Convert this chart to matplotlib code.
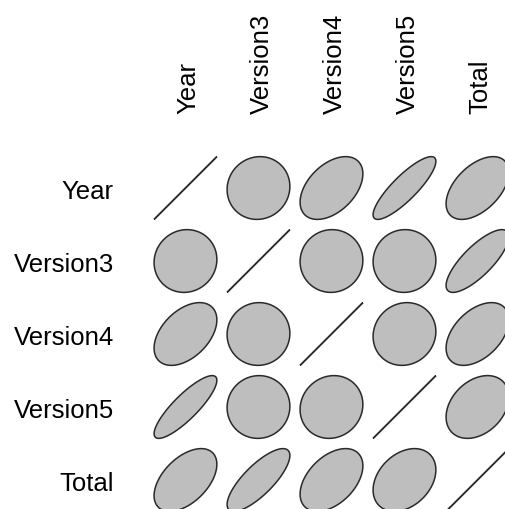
import numpy as np
import matplotlib.pyplot as plt
from matplotlib.patches import Polygon

# correlation matrix of the sales columns
names = ["Year", "Version3", "Version4", "Version5", "Total"]
corr = [
    [1.00, 0.05, 0.45, 0.85, 0.50],
    [0.05, 1.00, 0.02, 0.02, 0.78],
    [0.45, 0.02, 1.00, 0.08, 0.45],
    [0.85, 0.02, 0.08, 1.00, 0.32],
    [0.50, 0.78, 0.45, 0.32, 1.00],
]


def ellipse_pts(r, t=0.43, npoints=100):
    # same construction as R's ellipse(): cos(a +/- acos(r)/2)
    d = np.arccos(np.clip(r, -1, 1))
    a = np.linspace(0, 2 * np.pi, npoints)
    return np.column_stack([t * np.cos(a + d / 2), t * np.cos(a - d / 2)])


plt.rcParams['font.family'] = ['Liberation Sans', 'DejaVu Sans']

fig = plt.figure(figsize=(5.05, 5.09), dpi=100)
ax = fig.add_axes([0.295, -0.0147, 0.7228, 0.717])
n = len(names)
for i in range(n):
    for j in range(n):
        ell = ellipse_pts(corr[i][j])
        ell[:, 0] += j + 1
        ell[:, 1] += n - i
        ax.add_patch(Polygon(ell, closed=True, facecolor="#bebebe",
                             edgecolor="#2a2a2a", linewidth=1.1))

ax.set_xlim(0.5, n + 0.5)
ax.set_ylim(0.5, n + 0.5)
ax.axis("off")

for k, name in enumerate(names):
    # column labels on top, row labels on the left
    ax.text(k + 1.04, n + 1.02, name, rotation=90, ha="center", va="bottom",
            fontsize=18.5)
    ax.text(0.02, n - k - 0.05, name, ha="right", va="center", fontsize=18.5)

fig.savefig("out.png", dpi=100)
